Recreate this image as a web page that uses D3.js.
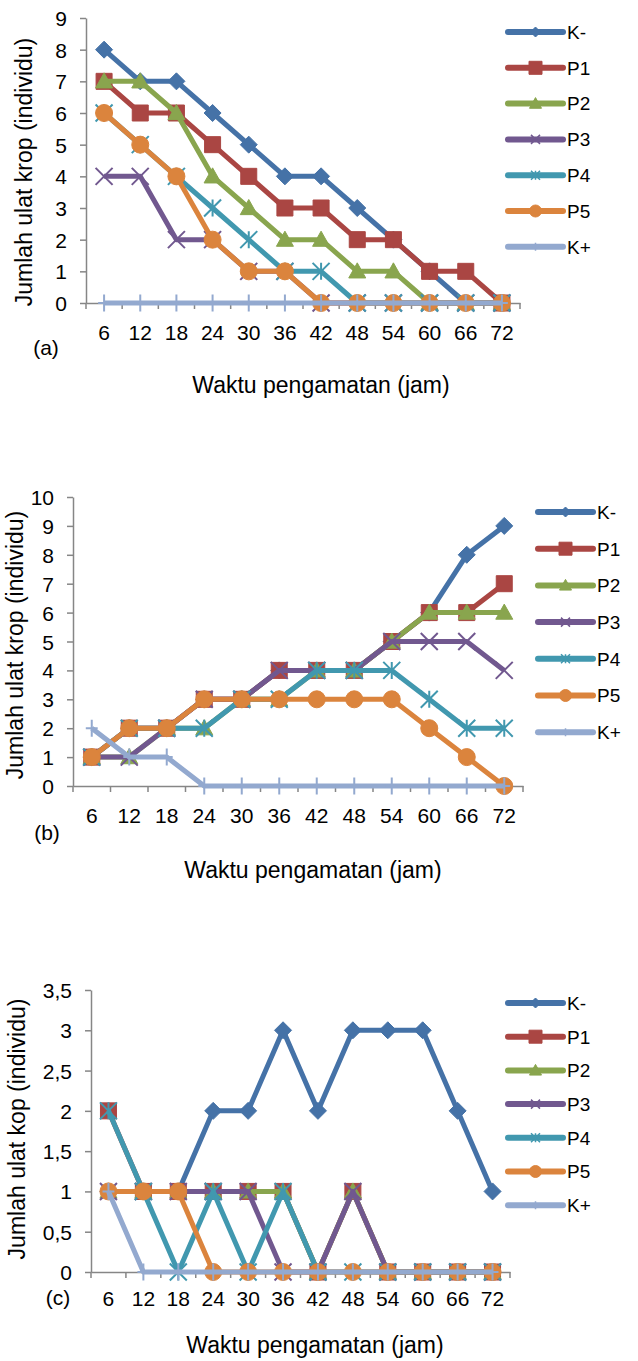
<!DOCTYPE html>
<html>
<head>
<meta charset="utf-8">
<script src="https://cdn.jsdelivr.net/npm/d3@7"></script>
<style>
  body { margin: 0; background: #fff; }
  text { font-family: "Liberation Sans", Arial, sans-serif; fill: #000; }
</style>
</head>
<body>
<div id="chart"></div>
<script>
// x categories (jam) and series
const hours = [6, 12, 18, 24, 30, 36, 42, 48, 54, 60, 66, 72];
const seriesNames = ["K-", "P1", "P2", "P3", "P4", "P5", "K+"];
const seriesColors = ["#4572A7", "#AA4643", "#89A54E", "#71588F", "#4198AF", "#DB843D", "#93A9CF"];
const seriesMarkers = ["diamond", "square", "triangle", "x", "star", "circle", "plus"];

// chart (a) values, one row per series
const valuesA = [
  [8, 7, 7, 6, 5, 4, 4, 3, 2, 1, 0, 0],
  [7, 6, 6, 5, 4, 3, 3, 2, 2, 1, 1, 0],
  [7, 7, 6, 4, 3, 2, 2, 1, 1, 0, 0, 0],
  [4, 4, 2, 2, 1, 1, 0, 0, 0, 0, 0, 0],
  [6, 5, 4, 3, 2, 1, 1, 0, 0, 0, 0, 0],
  [6, 5, 4, 2, 1, 1, 0, 0, 0, 0, 0, 0],
  [0, 0, 0, 0, 0, 0, 0, 0, 0, 0, 0, 0]
];
// chart (b)
const valuesB = [
  [1, 2, 2, 3, 3, 4, 4, 4, 5, 6, 8, 9],
  [1, 2, 2, 3, 3, 4, 4, 4, 5, 6, 6, 7],
  [1, 1, 2, 2, 3, 3, 4, 4, 5, 6, 6, 6],
  [1, 1, 2, 3, 3, 4, 4, 4, 5, 5, 5, 4],
  [1, 2, 2, 2, 3, 3, 4, 4, 4, 3, 2, 2],
  [1, 2, 2, 3, 3, 3, 3, 3, 3, 2, 1, 0],
  [2, 1, 1, 0, 0, 0, 0, 0, 0, 0, 0, 0]
];
// chart (c)
const valuesC = [
  [1, 1, 1, 2, 2, 3, 2, 3, 3, 3, 2, 1],
  [2, 1, 1, 1, 1, 1, 0, 1, 0, 0, 0, 0],
  [1, 1, 1, 1, 1, 1, 0, 1, 0, 0, 0, 0],
  [1, 1, 1, 1, 1, 0, 0, 1, 0, 0, 0, 0],
  [2, 1, 0, 1, 0, 1, 0, 0, 0, 0, 0, 0],
  [1, 1, 1, 0, 0, 0, 0, 0, 0, 0, 0, 0],
  [1, 0, 0, 0, 0, 0, 0, 0, 0, 0, 0, 0]
];

const ticksA = [0, 1, 2, 3, 4, 5, 6, 7, 8, 9];
const ticksB = [0, 1, 2, 3, 4, 5, 6, 7, 8, 9, 10];
const ticksC = [0, 0.5, 1, 1.5, 2, 2.5, 3, 3.5];

const svg = d3.select("#chart").append("svg")
  .attr("width", 638)
  .attr("height", 1361);

// marker shapes, r = half size
function markerPath(type, r) {
  if (type === "diamond") return `M0,${-r}L${r},0L0,${r}L${-r},0Z`;
  if (type === "square") return `M${-r},${-r}H${r}V${r}H${-r}Z`;
  if (type === "triangle") return `M0,${-r}L${r},${r * 0.78}L${-r},${r * 0.78}Z`;
  if (type === "x") return `M${-r},${-r}L${r},${r}M${-r},${r}L${r},${-r}`;
  if (type === "star") return `M${-r},${-r}L${r},${r}M${-r},${r}L${r},${-r}M0,${-r}V${r}`;
  if (type === "plus") return `M0,${-r}V${r}M${-r * 0.7},0H${r * 0.7}`;
  return "";
}

function drawMarker(g, type, color, cx, cy, r, sw) {
  if (type === "circle") {
    g.append("circle").attr("cx", cx).attr("cy", cy).attr("r", r)
      .attr("fill", color).attr("stroke", color).attr("stroke-width", 1);
    return;
  }
  const stroked = type === "x" || type === "star" || type === "plus";
  g.append("path")
    .attr("transform", `translate(${cx},${cy})`)
    .attr("d", markerPath(type, r))
    .attr("fill", stroked ? "none" : color)
    .attr("stroke", color)
    .attr("stroke-width", stroked ? sw : 1);
}

function drawChart(cfg) {
  const x = d3.scaleBand().domain(hours).range([cfg.left, cfg.right]).padding(0);
  const y = d3.scaleLinear().domain([0, cfg.max]).range([cfg.bottom, cfg.top]);
  const g = svg.append("g");

  // y axis
  const yAxis = g.append("g")
    .attr("transform", `translate(${cfg.left},0)`)
    .call(d3.axisLeft(y).tickValues(cfg.ticks).tickSize(6).tickPadding(13).tickSizeOuter(0)
      .tickFormat(cfg.fmt));
  yAxis.selectAll("line").attr("stroke", "#868686").attr("stroke-width", 1.5);
  yAxis.select(".domain").attr("stroke", "#868686").attr("stroke-width", 1.5);
  yAxis.selectAll("text").attr("font-size", 21).attr("font-family", "Liberation Sans, Arial, sans-serif")
    .attr("dy", "0.36em");

  // x axis, labels at centres, ticks at band edges
  const xAxis = g.append("g")
    .attr("transform", `translate(0,${cfg.bottom})`)
    .call(d3.axisBottom(x).tickSize(0).tickPadding(cfg.xPad).tickSizeOuter(0));
  xAxis.select(".domain").attr("stroke", "#868686").attr("stroke-width", 1.5);
  xAxis.selectAll("text").attr("font-size", 21).attr("font-family", "Liberation Sans, Arial, sans-serif");
  const edges = hours.map(h => x(h)).concat([x.range()[1]]);
  g.append("g").selectAll("line")
    .data(edges)
    .join("line")
      .attr("x1", d => d).attr("x2", d => d)
      .attr("y1", cfg.bottom).attr("y2", cfg.bottom + 6)
      .attr("stroke", "#868686").attr("stroke-width", 1.5);

  // series
  const line = d3.line()
    .x((d, i) => x(hours[i]) + x.bandwidth() / 2)
    .y(d => y(d));

  cfg.values.forEach((vals, s) => {
    const sg = g.append("g");
    sg.append("path")
      .datum(vals)
      .attr("fill", "none")
      .attr("stroke", seriesColors[s])
      .attr("stroke-width", 5)
      .attr("stroke-linejoin", "round")
      .attr("d", line);
    vals.forEach((v, i) => {
      const type = seriesMarkers[s];
      const r = type === "circle" ? 8.5 : type === "square" ? 8 : 8.5;
      drawMarker(sg, type, seriesColors[s], x(hours[i]) + x.bandwidth() / 2, y(v), r, 2);
    });
  });

  // legend
  const lg = g.append("g");
  seriesNames.forEach((name, s) => {
    const ly = cfg.legY + s * cfg.legStep;
    lg.append("line")
      .attr("x1", cfg.legX).attr("x2", cfg.legX + 55)
      .attr("y1", ly).attr("y2", ly)
      .attr("stroke", seriesColors[s]).attr("stroke-width", 6)
      .attr("stroke-linecap", "round");
    const type = seriesMarkers[s];
    const lr = { diamond: 5, square: 6.5, triangle: 6, x: 4.5, star: 4.5, circle: 6, plus: 4 }[type];
    drawMarker(lg, type, seriesColors[s], cfg.legX + 27.5, ly, lr, 1.5);
    lg.append("text")
      .attr("x", cfg.legX + 59).attr("y", ly)
      .attr("dy", "0.36em")
      .attr("font-size", 19)
      .text(name);
  });

  // axis titles
  g.append("text")
    .attr("transform", `translate(${cfg.yTitleX},${cfg.yTitleY}) rotate(-90)`)
    .attr("text-anchor", "middle")
    .attr("font-size", 23)
    .text(cfg.yTitle);
  g.append("text")
    .attr("x", cfg.xTitleX).attr("y", cfg.xTitleY)
    .attr("text-anchor", "middle")
    .attr("font-size", 23)
    .text("Waktu pengamatan (jam)");
  g.append("text")
    .attr("x", cfg.tagX).attr("y", cfg.tagY)
    .attr("text-anchor", "middle")
    .attr("font-size", 21)
    .text(cfg.tag);
}

const plainFmt = d => String(d);
const commaFmt = d => String(d).replace(".", ",");

drawChart({
  values: valuesA, max: 9, ticks: ticksA, fmt: plainFmt,
  left: 86, right: 520, top: 18, bottom: 303, xPad: 22,
  legX: 508, legY: 32, legStep: 35.8,
  yTitle: "Jumlah ulat krop (individu)", yTitleX: 32, yTitleY: 172,
  xTitleX: 321, xTitleY: 393, tag: "(a)", tagX: 46, tagY: 355
});

drawChart({
  values: valuesB, max: 10, ticks: ticksB, fmt: plainFmt,
  left: 73, right: 523, top: 497, bottom: 786, xPad: 22,
  legX: 538, legY: 512, legStep: 36.7,
  yTitle: "Jumlah ulat krop (individu)", yTitleX: 23, yTitleY: 645,
  xTitleX: 313, xTitleY: 878, tag: "(b)", tagX: 47, tagY: 840
});

drawChart({
  values: valuesC, max: 3.5, ticks: ticksC, fmt: commaFmt,
  left: 91, right: 510, top: 990, bottom: 1272, xPad: 19,
  legX: 508, legY: 1003, legStep: 33.7,
  yTitle: "Jumlah ulat kop (individu)", yTitleX: 25, yTitleY: 1129,
  xTitleX: 315, xTitleY: 1353, tag: "(c)", tagX: 58, tagY: 1305
});
</script>
</body>
</html>
